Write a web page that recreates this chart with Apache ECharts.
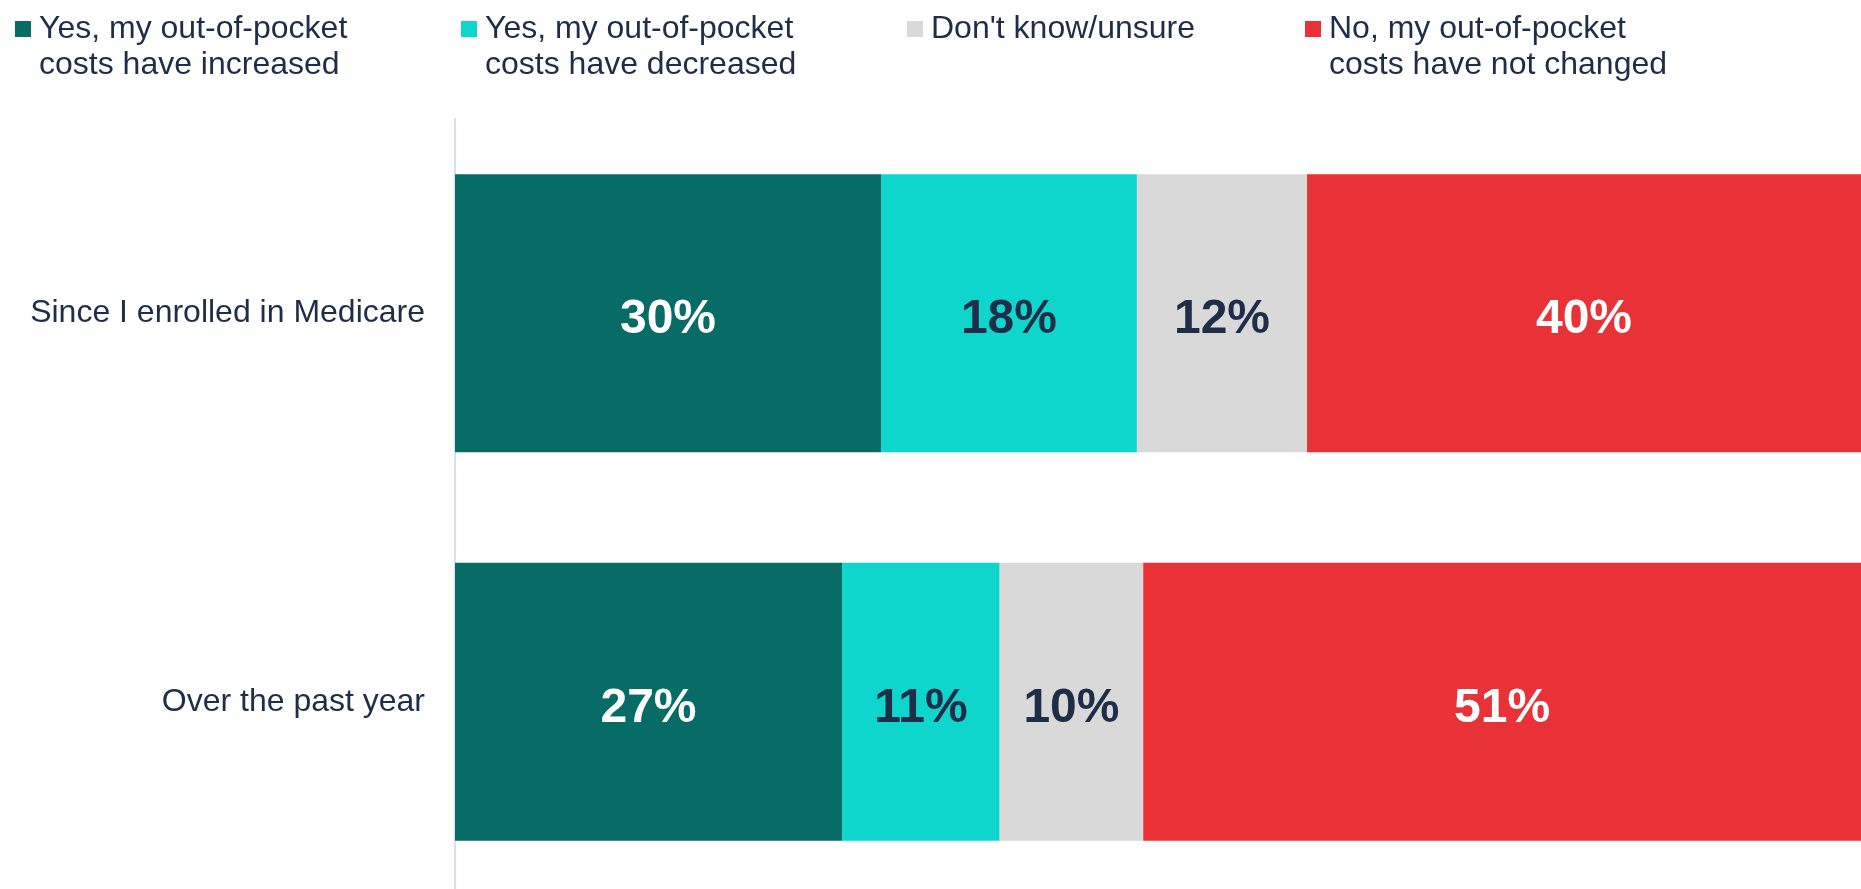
<!DOCTYPE html>
<html>
<head>
<meta charset="utf-8">
<title>Out-of-pocket costs</title>
<script src="https://cdn.jsdelivr.net/npm/echarts@6/dist/echarts.min.js"></script>
<style>
    html, body { margin: 0; padding: 0; background: #fff; }
    #main { width: 1861px; height: 889px; }
</style>
</head>
<body>
<div id="main"></div>
<script>
// rows, top to bottom
var categories = ['Since I enrolled in Medicare', 'Over the past year'];

// share of each row
var increased = [30.3, 27.5];
var decreased = [18.2, 11.2];
var unsure = [12.1, 10.2];
var notChanged = [39.4, 51.0];

// percentages printed on the bars
var increasedLabels = ['30%', '27%'];
var decreasedLabels = ['18%', '11%'];
var unsureLabels = ['12%', '10%'];
var notChangedLabels = ['40%', '51%'];

var seriesNames = [
    'Yes, my out-of-pocket\ncosts have increased',
    'Yes, my out-of-pocket\ncosts have decreased',
    "Don't know/unsure",
    'No, my out-of-pocket\ncosts have not changed'
];
var colors = ['#076b66', '#0fd6cd', '#d9d9d9', '#e83237'];
var labelColors = ['#ffffff', '#1e2d48', '#1e2d48', '#ffffff'];
var legendLeft = [15, 461, 907, 1305];

var textColor = '#1e2d48';
var font = 'Liberation Sans, Arial, sans-serif';

var allValues = [increased, decreased, unsure, notChanged];
var allLabels = [increasedLabels, decreasedLabels, unsureLabels, notChangedLabels];

// 100% stacked: each row is scaled to its own total
var rowTotals = categories.map(function (c, i) {
    return allValues.reduce(function (s, arr) { return s + arr[i]; }, 0);
});

var myChart = echarts.init(document.getElementById('main'));

var legends = seriesNames.map(function (name, k) {
    var twoLines = name.indexOf('\n') >= 0;
    return {
        data: [name],
        left: legendLeft[k],
        top: twoLines ? -25 : 11,
        padding: 0,
        icon: 'rect',
        itemWidth: 16,
        itemHeight: 16,
        selectedMode: false,
        // blank first line so the square sits next to the first text line
        formatter: function (n) { return twoLines ? '\n' + n : n; },
        textStyle: {
            color: textColor,
            fontFamily: font,
            fontSize: 32,
            lineHeight: 36,
            padding: [0, 0, 0, 3]
        }
    };
});

var series = allValues.map(function (arr, k) {
    return {
        name: seriesNames[k],
        type: 'bar',
        stack: 'total',
        barWidth: 278,
        itemStyle: { color: colors[k] },
        label: {
            show: true,
            position: 'inside',
            offset: [0, 7],
            color: labelColors[k],
            fontFamily: font,
            fontWeight: 'bold',
            fontSize: 48,
            formatter: function (p) { return allLabels[k][p.dataIndex]; }
        },
        data: arr.map(function (v, i) { return v / rowTotals[i] * 100; })
    };
});

var option = {
    animation: false,
    backgroundColor: '#ffffff',
    legend: legends,
    grid: {
        left: 455,
        right: 0,
        top: 119,
        height: 777,
        containLabel: false,
        outerBoundsMode: 'none'
    },
    xAxis: {
        type: 'value',
        min: 0,
        max: 100,
        show: false
    },
    yAxis: {
        type: 'category',
        inverse: true,
        data: categories,
        axisLine: { show: true, lineStyle: { color: '#d6e0f0', width: 2 } },
        axisTick: { show: false },
        axisLabel: {
            color: textColor,
            fontFamily: font,
            fontSize: 32,
            margin: 30,
            padding: [6, 0, 0, 0]
        }
    },
    series: series
};

myChart.setOption(option);
</script>
</body>
</html>
